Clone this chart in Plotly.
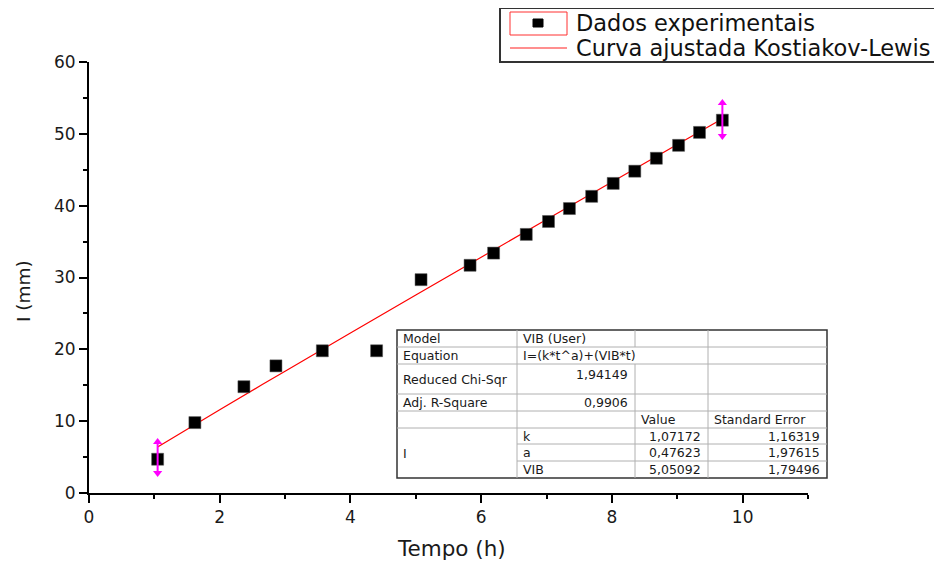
import plotly.graph_objects as go

# ---------------- data ----------------
tempo_h = [1.05, 1.62, 2.37, 2.86, 3.57, 4.40, 5.08, 5.83, 6.19, 6.69, 7.03,
           7.35, 7.69, 8.02, 8.35, 8.68, 9.02, 9.34, 9.69]
infil_mm = [4.7, 9.8, 14.8, 17.7, 19.8, 19.8, 29.7, 31.7, 33.4, 36.0, 37.8,
            39.6, 41.3, 43.1, 44.8, 46.6, 48.4, 50.2, 51.9]

fit_t = [1.05, 2, 3, 4, 5, 6, 7, 8, 9, 9.69]
fit_i = [6.40, 11.59, 16.96, 22.28, 27.56, 32.82, 38.06, 43.29, 48.51, 52.10]

# fit range markers (magenta double arrows)
range_left_t = [1.05, 1.05]
range_left_i = [2.8, 7.1]
range_right_t = [9.69, 9.69]
range_right_i = [49.7, 54.3]

x_ticks = [0, 2, 4, 6, 8, 10]
y_ticks = [0, 10, 20, 30, 40, 50, 60]

legend_labels = ["Dados experimentais", "Curva ajustada Kostiakov-Lewis"]

table_rows = [
    ["Model", "VIB (User)", "", ""],
    ["Equation", "I=(k*t^a)+(VIB*t)", "", ""],
    ["Reduced Chi-Sqr", "1,94149", "", ""],
    ["Adj. R-Square", "0,9906", "", ""],
    ["", "", "Value", "Standard Error"],
]
param_names = ["k", "a", "VIB"]
param_values = ["1,07172", "0,47623", "5,05092"]
param_errors = ["1,16319", "1,97615", "1,79496"]

# ---------------- layout geometry ----------------
# page body has an 8 px margin: figure is drawn at (8, 8) in the window
OFF = 8
W, H = 942 - OFF, 563 - OFF
PLOT_L, PLOT_R, PLOT_T, PLOT_B = 89, 808, 62, 493     # window pixels
ML, MT = PLOT_L - OFF, PLOT_T - OFF
MR, MB = W - (PLOT_R - OFF), H - (PLOT_B - OFF)
PW, PH = PLOT_R - PLOT_L, PLOT_B - PLOT_T
FONT = "DejaVu Sans, Arial, sans-serif"


def px(x):
    return (x - PLOT_L) / PW


def py(y):
    return (PLOT_B - y) / PH


fig = go.Figure()

fig.add_trace(go.Scatter(
    x=fit_t, y=fit_i, mode="lines", name=legend_labels[1],
    line=dict(color="#ff0000", width=1.2), line_shape="spline"))

fig.add_trace(go.Scatter(
    x=tempo_h, y=infil_mm, mode="markers", name=legend_labels[0],
    marker=dict(symbol="square", size=12, color="black",
                line=dict(color="#555555", width=0.5))))

for xs, ys in [(range_left_t, range_left_i), (range_right_t, range_right_i)]:
    fig.add_trace(go.Scatter(
        x=xs, y=ys, mode="lines+markers", showlegend=False, hoverinfo="skip",
        line=dict(color="#ff00ff", width=2),
        marker=dict(symbol=["triangle-down", "triangle-up"], size=8,
                    color="#ff00ff")))

shapes = []
annotations = []

# ---------- fit results table ----------
cols = [397, 517, 635, 708, 827]
rows = [330, 347, 364, 394, 411, 428, 444, 461, 478]
grid = "#b0b0b0"
tfont = dict(family=FONT, size=12.5, color="#1a1a1a")


def hline(x0, x1, y, color=grid, w=1):
    shapes.append(dict(type="line", xref="paper", yref="paper",
                       x0=px(x0), x1=px(x1), y0=py(y), y1=py(y),
                       line=dict(color=color, width=w)))


def vline(x, y0, y1, color=grid, w=1):
    shapes.append(dict(type="line", xref="paper", yref="paper",
                       x0=px(x), x1=px(x), y0=py(y0), y1=py(y1),
                       line=dict(color=color, width=w)))


def text(t, x, y, anchor="left", yanchor="middle", font=tfont, angle=0):
    annotations.append(dict(text=t, xref="paper", yref="paper", x=px(x),
                            y=py(y), xanchor=anchor, yanchor=yanchor,
                            showarrow=False, font=font, textangle=angle))


shapes.append(dict(type="rect", xref="paper", yref="paper",
                   x0=px(cols[0]), x1=px(cols[4]), y0=py(rows[0]),
                   y1=py(rows[8]), fillcolor="white",
                   line=dict(color="#333333", width=1.5), layer="above"))
for r in rows[1:6]:
    hline(cols[0], cols[4], r)
for r in rows[6:8]:
    hline(cols[1], cols[4], r)
vline(cols[1], rows[0], rows[8])
vline(cols[2], rows[0], rows[1])
vline(cols[2], rows[2], rows[8])
vline(cols[3], rows[0], rows[8])

for i, row in enumerate(table_rows):
    yc = (rows[i] + rows[i + 1]) / 2
    if row[0]:
        text(row[0], cols[0] + 4, yc)
    if i in (0, 1):
        text(row[1], cols[1] + 4, yc)
    elif i == 2:
        text(row[1], cols[2] - 5, rows[i] + 1, anchor="right", yanchor="top")
    elif i == 3:
        text(row[1], cols[2] - 5, yc, anchor="right")
    if row[2]:
        text(row[2], cols[2] + 4, yc)
    if row[3]:
        text(row[3], cols[3] + 4, yc)

text("I", cols[0] + 4, (rows[5] + rows[8]) / 2)
for j in range(3):
    yc = (rows[5 + j] + rows[6 + j]) / 2
    text(param_names[j], cols[1] + 4, yc)
    text(param_values[j], cols[3] - 5, yc, anchor="right")
    text(param_errors[j], cols[4] - 5, yc, anchor="right")

# ---------- legend box (Origin style) ----------
lfont = dict(family=FONT, size=22.5, color="#111111")
shapes.append(dict(type="rect", xref="paper", yref="paper",
                   x0=px(500), x1=px(960), y0=py(8), y1=py(62),
                   fillcolor="white", line=dict(color="#333333", width=2)))
shapes.append(dict(type="rect", xref="paper", yref="paper",
                   x0=px(510), x1=px(567), y0=py(12), y1=py(35),
                   line=dict(color="#ff3030", width=1)))
shapes.append(dict(type="rect", xref="paper", yref="paper",
                   x0=px(533), x1=px(543), y0=py(19), y1=py(27),
                   fillcolor="black", line=dict(color="black", width=1)))
shapes.append(dict(type="line", xref="paper", yref="paper",
                   x0=px(510), x1=px(567), y0=py(48), y1=py(48),
                   line=dict(color="#ff2020", width=1.2)))
text(legend_labels[0], 574, 23, font=lfont)
text(legend_labels[1], 574, 48, font=lfont)

# ---------- axis titles ----------
text("Tempo (h)", 451, 548, anchor="center",
     font=dict(family=FONT, size=21.5, color="#1a1a1a"))
text("I (mm)", 23, 291, anchor="center",
     font=dict(family=FONT, size=18.5, color="#1a1a1a"), angle=-90)

fig.update_layout(
    width=W, height=H,
    margin=dict(l=ML, r=MR, t=MT, b=MB, pad=0, autoexpand=False),
    paper_bgcolor="white", plot_bgcolor="white",
    font=dict(family=FONT, size=17, color="#1a1a1a"),
    shapes=shapes, annotations=annotations,
    showlegend=False,
    xaxis=dict(range=[0, 11], tickvals=x_ticks, showgrid=False, zeroline=False,
               showline=True, linecolor="black", linewidth=2,
               ticks="outside", ticklen=8, tickwidth=2, tickcolor="black",
               minor=dict(dtick=1, ticks="outside", ticklen=4, tickwidth=2,
                          tickcolor="black", showgrid=False),
               tickfont=dict(size=17), automargin=False),
    yaxis=dict(range=[0, 60], tickvals=y_ticks, showgrid=False, zeroline=False,
               showline=True, linecolor="black", linewidth=2,
               ticks="outside", ticklen=8, tickwidth=2, tickcolor="black",
               minor=dict(dtick=5, ticks="outside", ticklen=4, tickwidth=2,
                          tickcolor="black", showgrid=False),
               tickfont=dict(size=17), automargin=False),
)

fig.write_html("out.html")
